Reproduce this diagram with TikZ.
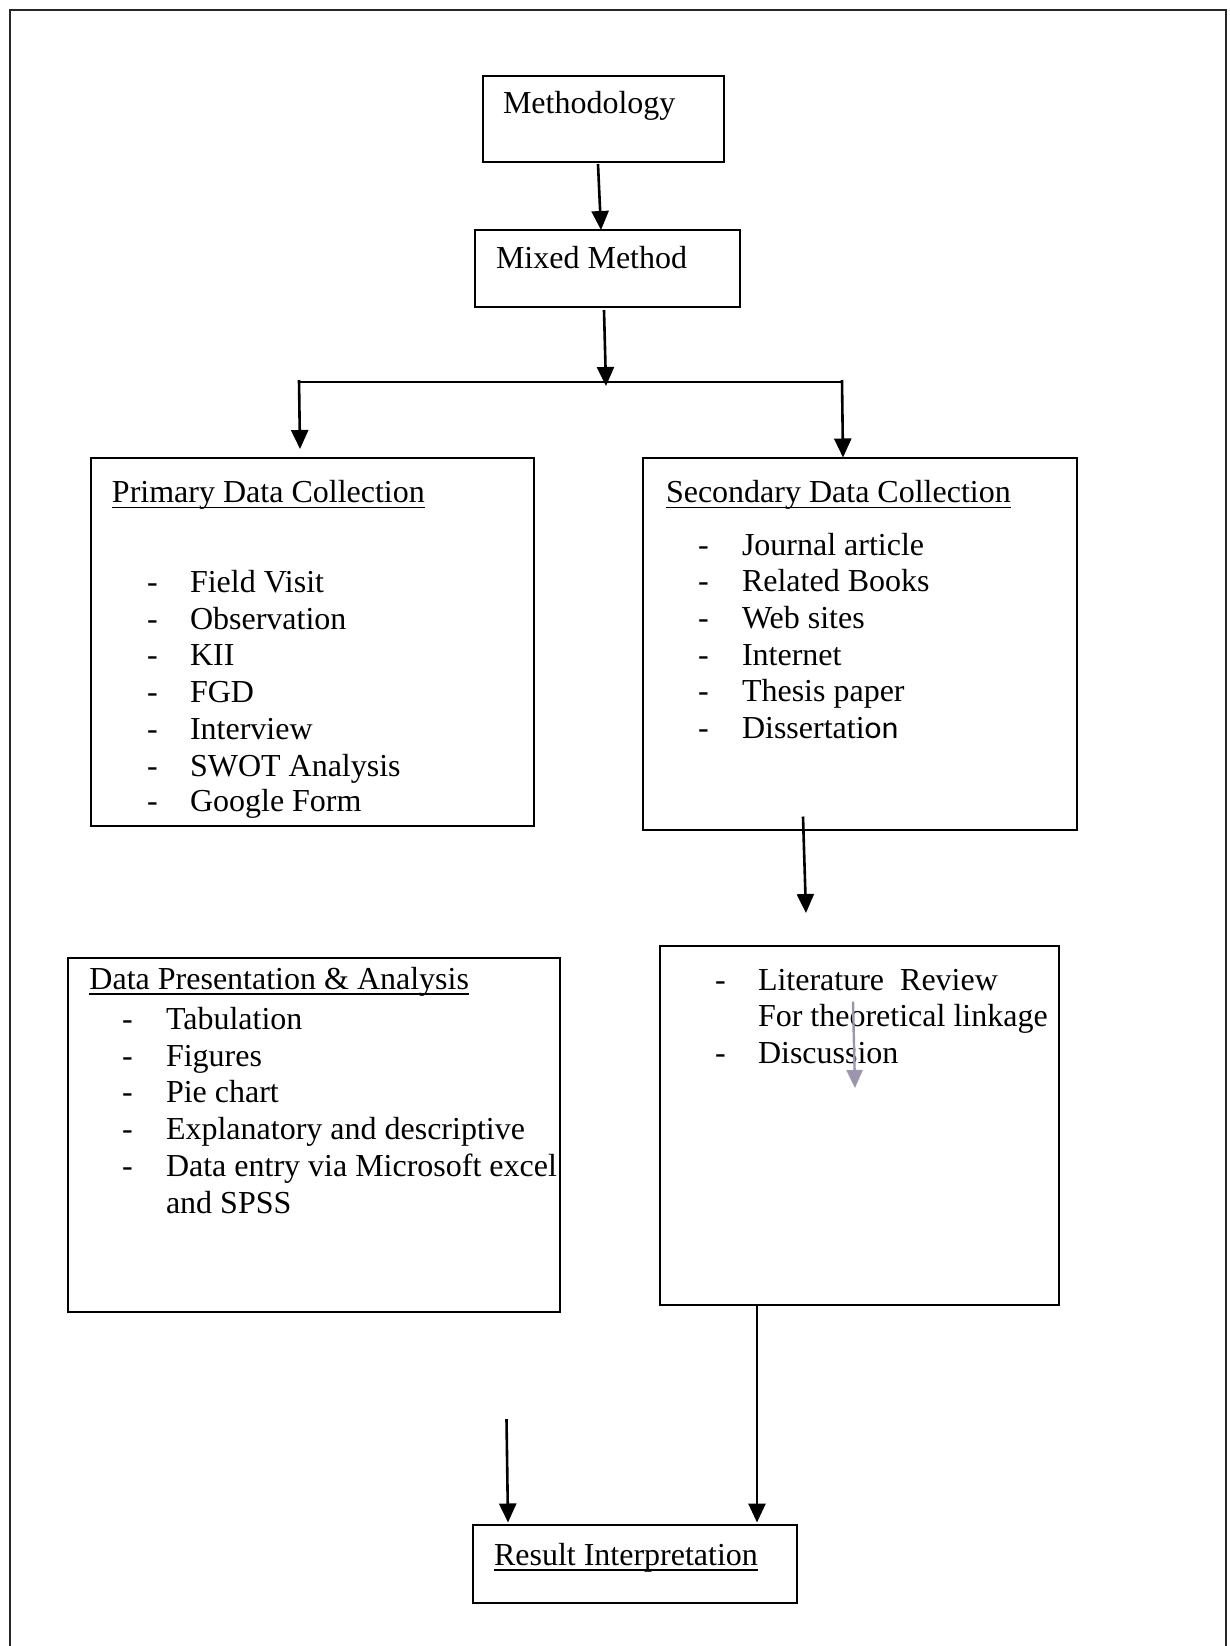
\documentclass[tikz,border=0pt]{standalone}
\usepackage{fontspec}
\setmainfont{Liberation Serif}
\newfontfamily\calibrifont{Carlito}
\usetikzlibrary{arrows.meta,fit,calc}
\newcommand\ulinetext[1]{\setbox0\hbox{#1}\rlap{\rule[-2.9pt]{\wd0}{0.9pt}}\box0}
\begin{document}
\begin{tikzpicture}[x=0.5pt,y=-0.5pt,
  box/.style={draw=black, line width=1pt, inner sep=0pt, outer sep=0pt, rectangle},
  txt/.style={anchor=base west, inner sep=0pt, outer sep=0pt, font=\fontsize{16pt}{18.4pt}\selectfont},
  arr/.style={line width=1.3pt, -{Triangle[length=9.5pt,width=8.5pt]}},
  grayarr/.style={line width=1.2pt, draw={rgb,255:red,155;green,150;blue,172}, -{Triangle[length=9pt,width=8pt]}},
  frameline/.style={line width=1pt, draw=black!85}]

\useasboundingbox (0,0) rectangle (1230,1646);
\draw[frameline] (10,1652) -- (10,9.5) -- (1226,9.5) -- (1226,1652);

% boxes
\node[box, fit={(483,75.5)(724,161.5)}] (meth) {};
\node[box, fit={(475,230)(740,307)}] (mix) {};
\node[box, fit={(91,457.5)(534,826)}] (prim) {};
\node[box, fit={(643,457.5)(1077,830)}] (sec) {};
\node[box, fit={(68,958)(560,1312)}] (dpa) {};
\node[box, fit={(660,945.5)(1059,1305)}] (lit) {};
\node[box, fit={(473,1525)(797,1603)}] (res) {};

% texts
\node[txt] (methT) at (503,113) {Methodology};
\node[txt] (mixT) at (496,268) {Mixed Method};

\node[txt] (primT) at (112,502.5) {\ulinetext{Primary Data Collection}};
\node[txt] (pd1) at (147,592.5) {-}; \node[txt] (p1) at (190,592.5) {Field Visit};
\node[txt] (pd2) at (147,629.2) {-}; \node[txt] (p2) at (190,629.2) {Observation};
\node[txt] (pd3) at (147,665.9) {-}; \node[txt] (p3) at (190,665.9) {KII};
\node[txt] (pd4) at (147,702.6) {-}; \node[txt] (p4) at (190,702.6) {FGD};
\node[txt] (pd5) at (147,739.3) {-}; \node[txt] (p5) at (190,739.3) {Interview};
\node[txt] (pd6) at (147,776.0) {-}; \node[txt] (p6) at (190,776.0) {SWOT Analysis};
\node[txt] (pd7) at (147,811.5) {-}; \node[txt] (p7) at (190,811.5) {Google Form};

\node[txt] (secT) at (666,502.5) {\ulinetext{Secondary Data Collection}};
\node[txt] (sd1) at (698,555) {-}; \node[txt] (s1) at (742,555) {Journal article};
\node[txt] (sd2) at (698,591.7) {-}; \node[txt] (s2) at (742,591.7) {Related Books};
\node[txt] (sd3) at (698,628.4) {-}; \node[txt] (s3) at (742,628.4) {Web sites};
\node[txt] (sd4) at (698,665.1) {-}; \node[txt] (s4) at (742,665.1) {Internet};
\node[txt] (sd5) at (698,701.8) {-}; \node[txt] (s5) at (742,701.8) {Thesis paper};
\node[txt] (sd6) at (698,738.5) {-}; \node[txt] (s6) at (742,738.5) {Dissertati{\calibrifont on}};

\node[txt] (dpaT) at (89.5,989.3) {\ulinetext{Data Presentation \& Analysis}};
\node[txt] (dd1) at (122,1029.3) {-}; \node[txt] (d1) at (166,1029.3) {Tabulation};
\node[txt] (dd2) at (122,1066.0) {-}; \node[txt] (d2) at (166,1066.0) {Figures};
\node[txt] (dd3) at (122,1102.7) {-}; \node[txt] (d3) at (166,1102.7) {Pie chart};
\node[txt] (dd4) at (122,1139.4) {-}; \node[txt] (d4) at (166,1139.4) {Explanatory and descriptive};
\node[txt] (dd5) at (122,1176.1) {-}; \node[txt] (d5) at (166,1176.1) {Data entry via Microsoft excel};
\node[txt] (d6) at (166,1213.5) {and SPSS};

\node[txt] (ld1) at (715,990) {-}; \node[txt] (l1) at (758,990) {Literature\ \ Review};
\node[txt] (l2) at (758,1026.7) {For theoretical linkage};
\node[txt] (ld3) at (715,1063.4) {-}; \node[txt] (l3) at (758,1063.4) {Discussion};

\node[txt] (resT) at (494,1565) {\ulinetext{Result Interpretation}};

% connectors
\coordinate (bl) at (299,382);
\coordinate (br) at (843,382);
\coordinate (bm) at (606,386);
\draw[line width=1.3pt] (bl) -- (br);
\draw[arr] ($(meth.south)+(-5.5,2.5)$) -- ($(mix.north)+(-6.5,0)$);
\draw[arr] ($(mix.south)+(-3.5,3)$) -- (bm);
\draw[arr] ($(bl)+(0,-2)$) -- ($(prim.north)+(-12.5,-8.5)$);
\draw[arr] ($(br)+(-1,-2)$) -- ($(sec.north)+(-17,0)$);
\coordinate (secout) at (806,913);
\draw[arr] ($(sec.south)+(-57,-13.5)$) -- (secout);
\coordinate (gs) at (853,1001.5);
\coordinate (ge) at (855,1088);
\draw[grayarr] (gs) -- (ge);
\draw[arr] ($(lit.south)+(-102.5,0)$) -- ($(res.north)+(122,-2.5)$);
\coordinate (dpaout) at (506.5,1419);
\draw[arr] (dpaout) -- ($(res.north)+(-127,-2.5)$);
\end{tikzpicture}
\end{document}
